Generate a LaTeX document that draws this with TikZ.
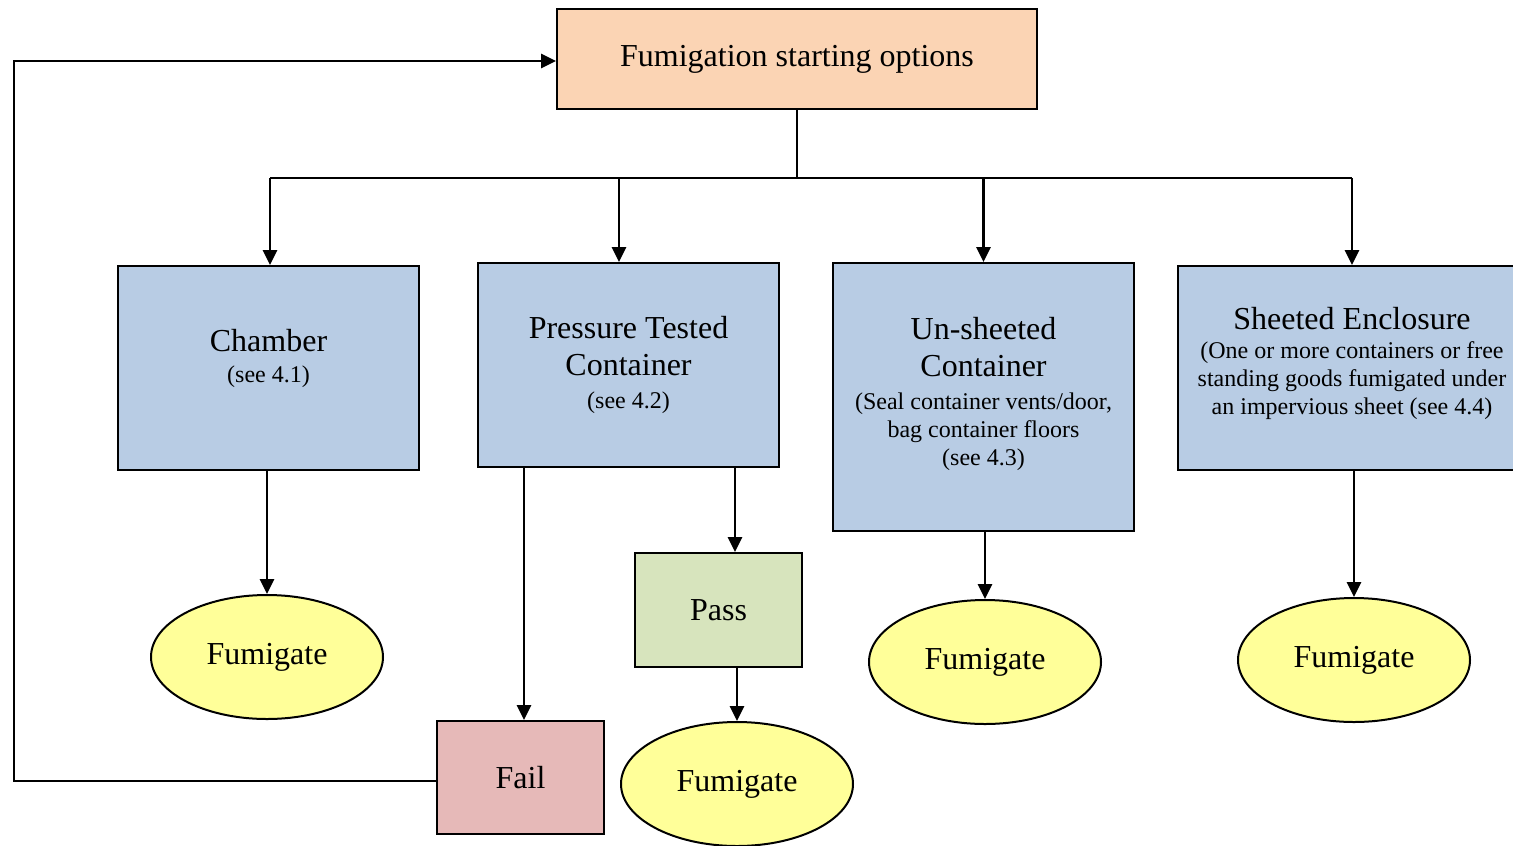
\documentclass[tikz,border=0pt]{standalone}
\usepackage{fontspec}
\setmainfont{Liberation Serif}
\usetikzlibrary{shapes}
\usetikzlibrary{arrows.meta}
\usetikzlibrary{positioning}

\definecolor{startpeach}{HTML}{FBD4B4}
\definecolor{optblue}{HTML}{B8CCE4}
\definecolor{passgreen}{HTML}{D7E4BD}
\definecolor{failred}{HTML}{E6B9B8}
\definecolor{fumyellow}{HTML}{FFFF99}

\newcommand\optfont{\fontsize{32}{37}\selectfont}
\newcommand\notefont{\fontsize{24}{28}\selectfont}

\tikzset{
  optbox/.style={draw, line width=2pt, align=center, font=\optfont, inner sep=0pt},
  fumigate/.style={ellipse, draw, line width=2pt, fill=fumyellow, inner sep=0pt,
    minimum width=232pt, minimum height=124pt, font=\optfont},
  link/.style={line width=2.8pt, -{Triangle[length=15pt,width=14pt]}},
  bare/.style={line width=2.8pt}
}

\begin{document}
\begin{tikzpicture}[x=1pt,y=-1pt]
  \useasboundingbox (0,0) rectangle (1513,846);

  % starting box
  \node[optbox, fill=startpeach, minimum width=480pt, minimum height=100pt] (start) at (797,59)
    {Fumigation starting options};

  % the four options
  \node[optbox, fill=optblue, minimum width=301pt, minimum height=204pt, text depth=24pt] (chamber) at (268.5,368)
    {Chamber\\[-6pt]{\notefont (see 4.1)}};
  \node[optbox, fill=optblue, minimum width=301pt, minimum height=204pt] (pressure) at (628.5,365)
    {Pressure Tested\\Container\\[-4pt]{\notefont (see 4.2)}};
  \node[optbox, fill=optblue, minimum width=301pt, minimum height=268pt, text depth=11pt] (unsheeted) at (983.5,397)
    {Un-sheeted\\Container\\[-4pt]{\notefont (Seal container vents/door,}\\[-9pt]{\notefont bag container floors}\\[-9pt]{\notefont (see 4.3)}};
  \node[optbox, fill=optblue, minimum width=348pt, minimum height=204pt, text depth=14pt] (sheeted) at (1352,368)
    {Sheeted Enclosure\\[-8pt]{\notefont (One or more containers or free}\\[-9pt]{\notefont standing goods fumigated under}\\[-9pt]{\notefont an impervious sheet (see 4.4)}};

  % test result
  \node[optbox, fill=passgreen, minimum width=167pt, minimum height=114pt] (pass) at (718.5,610) {Pass};
  \node[optbox, fill=failred, minimum width=167pt, minimum height=113pt] (fail) at (520.5,777.5) {Fail};

  % fumigate
  \node[fumigate] (fum1) at (267,657) {Fumigate};
  \node[fumigate] (fum2) at (737,784) {Fumigate};
  \node[fumigate] (fum3) at (985,662) {Fumigate};
  \node[fumigate] (fum4) at (1354,660) {Fumigate};

  \coordinate (bus) at (797,178);
  \coordinate (loopx) at (14,0);

  % connectors
  \draw[bare] (start.south) -- (bus);
  \draw[bare] ([xshift=1.5pt]chamber.north |- bus) -- (sheeted.north |- bus);
  \draw[link] ([xshift=1.5pt]chamber.north |- bus) -- ([xshift=1.5pt]chamber.north);
  \draw[link] ([xshift=-9.5pt]pressure.north |- bus) -- ([xshift=-9.5pt]pressure.north);
  \draw[link] (unsheeted.north |- bus) -- (unsheeted.north);
  \draw[link] (sheeted.north |- bus) -- (sheeted.north);

  \draw[link] (chamber.south -| fum1.north) -- (fum1.north);
  \draw[link] ([xshift=3.5pt]fail.north |- pressure.south) -- ([xshift=3.5pt]fail.north);
  \draw[link] ([xshift=16.5pt]pass.north |- pressure.south) -- ([xshift=16.5pt]pass.north);
  \draw[link] (pass.south -| fum2.north) -- (fum2.north);
  \draw[link] (unsheeted.south -| fum3.north) -- (fum3.north);
  \draw[link] (sheeted.south -| fum4.north) -- (fum4.north);

  % back to the start
  \draw[link] ([yshift=-3.5pt]fail.west) -- ([yshift=-3.5pt]fail.west -| loopx) |- ([yshift=-2pt]start.west);
\end{tikzpicture}
\end{document}
